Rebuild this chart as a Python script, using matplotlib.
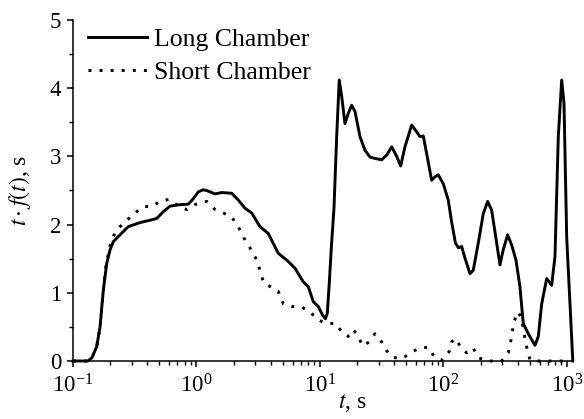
import matplotlib
matplotlib.use("Agg")
import matplotlib.pyplot as plt
from matplotlib.ticker import LogLocator, MultipleLocator, NullFormatter

plt.rcParams['font.family'] = ['Liberation Serif', 'DejaVu Serif']
plt.rcParams['mathtext.fontset'] = 'stix'

# Long chamber: time (s) and t*f(t) (s)
t_long = [0.100, 0.132, 0.1426, 0.1556, 0.1656, 0.1760, 0.1875, 0.1995, 0.2120, 0.2403,
          0.2805, 0.3490, 0.4339, 0.4762, 0.5388, 0.6100, 0.7123, 0.8590, 0.9420, 1.035,
          1.129, 1.210, 1.413, 1.600, 1.928, 2.180, 2.469, 2.799, 3.266, 3.811,
          4.592, 5.534, 6.274, 7.329, 8.041, 8.828, 9.690, 10.51, 11.08, 11.46,
          11.89, 12.39, 12.98, 13.65, 14.32, 14.99, 15.93, 16.94, 18.05, 19.20,
          21.08, 23.12, 25.40, 27.88, 31.61, 34.68, 38.08, 41.80, 45.01, 48.76,
          55.25, 60.64, 64.53, 68.62, 73.08, 80.17, 85.28, 90.69, 99.58, 109.3,
          116.1, 125.0, 132.2, 140.3, 149.2, 163.9, 174.2, 191.3, 210.0, 227.9,
          245.6, 269.6, 286.6, 304.6, 330.8, 356.6, 386.3, 416.1, 442.6, 485.9,
          550.9, 585.8, 624.4, 685.5, 751.7, 799.6, 850.6, 906.3, 946.1, 994.7,
          1057, 1115]
y_long = [0.00, 0.00, 0.05, 0.21, 0.50, 1.04, 1.43, 1.63, 1.75, 1.85,
          1.97, 2.03, 2.07, 2.09, 2.19, 2.27, 2.29, 2.30, 2.38, 2.48,
          2.51, 2.50, 2.45, 2.47, 2.46, 2.36, 2.24, 2.17, 1.97, 1.87,
          1.58, 1.46, 1.36, 1.16, 1.09, 0.87, 0.80, 0.67, 0.62, 0.70,
          1.14, 1.70, 2.24, 3.29, 4.12, 3.88, 3.48, 3.63, 3.75, 3.66,
          3.29, 3.09, 2.99, 2.97, 2.95, 3.02, 3.14, 3.00, 2.86, 3.14,
          3.46, 3.36, 3.29, 3.30, 3.04, 2.65, 2.70, 2.73, 2.60, 2.36,
          2.05, 1.73, 1.66, 1.68, 1.51, 1.28, 1.33, 1.73, 2.16, 2.34,
          2.21, 1.73, 1.41, 1.63, 1.85, 1.70, 1.48, 1.09, 0.55, 0.40,
          0.23, 0.36, 0.84, 1.21, 1.11, 1.53, 3.29, 4.12, 3.78, 1.82,
          0.85, 0.00]

# Short chamber
t_short = [0.100, 0.132, 0.1426, 0.1556, 0.1656, 0.1760, 0.1850, 0.2018, 0.2120, 0.2403,
           0.2754, 0.3177, 0.3667, 0.4415, 0.5128, 0.6100, 0.7123, 0.8337, 0.9908, 1.210,
           1.413, 1.648, 1.928, 2.180, 2.393, 2.626, 2.882, 3.163, 3.308, 3.521,
           4.064, 4.592, 5.049, 5.905, 7.112, 8.298, 9.690, 11.33, 13.40, 14.99,
           16.94, 18.60, 20.42, 22.17, 25.07, 27.88, 31.61, 34.68, 38.79, 46.77,
           54.26, 63.64, 75.33, 83.76, 96.68, 111.4, 116.5, 126.2, 137.8, 154.1,
           174.2, 191.3, 223.8, 295.8, 334.8, 350.1, 372.4, 403.6, 429.9, 457.1,
           477.5, 501.3, 530.4, 928.6]
y_short = [0.00, 0.00, 0.05, 0.21, 0.50, 1.04, 1.41, 1.73, 1.83, 1.97,
           2.07, 2.17, 2.26, 2.27, 2.35, 2.37, 2.27, 2.22, 2.30, 2.34,
           2.22, 2.17, 2.11, 1.97, 1.82, 1.70, 1.58, 1.43, 1.28, 1.14,
           1.08, 1.02, 0.84, 0.80, 0.79, 0.72, 0.60, 0.55, 0.55, 0.43,
           0.36, 0.46, 0.36, 0.22, 0.28, 0.40, 0.28, 0.15, 0.05, 0.04,
           0.12, 0.19, 0.20, 0.07, 0.01, 0.14, 0.28, 0.33, 0.20, 0.12,
           0.19, 0.05, 0.00, 0.00, 0.12, 0.28, 0.58, 0.72, 0.61, 0.33,
           0.16, 0.02, 0.00, 0.00]

labels = ['Long Chamber', 'Short Chamber']

fig = plt.figure(figsize=(5.84, 4.19), dpi=100)
ax = fig.add_axes([73/584, 1 - 361/419, 500/584, 341/419])

ax.plot(t_long, y_long, color='black', lw=2.1, solid_joinstyle='round', clip_on=False, label=labels[0])
ax.plot(t_short, y_short, color='black', lw=2.1, linestyle=(0, (1.0, 2.8)),
        dash_capstyle='butt', clip_on=False, label=labels[1])

ax.set_xscale('log')
ax.set_xlim(0.1, 1119)
ax.set_ylim(0, 5)
ax.xaxis.set_major_locator(LogLocator(base=10, numticks=10))
ax.xaxis.set_minor_locator(LogLocator(base=10, subs=range(2, 10), numticks=20))
ax.xaxis.set_minor_formatter(NullFormatter())
ax.yaxis.set_major_locator(MultipleLocator(1))
ax.yaxis.set_minor_locator(MultipleLocator(0.5))

for s in ['top', 'right']:
    ax.spines[s].set_visible(False)
for s in ['left', 'bottom']:
    ax.spines[s].set_linewidth(1.1)

ax.tick_params(which='major', direction='out', length=4.5, width=1.1, labelsize=16.5, pad=4)
ax.tick_params(which='minor', direction='out', length=2.8, width=1.0)
ax.tick_params(axis='x', which='major', pad=5)

ax.set_xlabel(r'$t$, s', fontsize=17)
ax.xaxis.set_label_coords(0.558, -0.09)
ax.set_ylabel(r'$t\cdot f(t)$, s', fontsize=17)
ax.yaxis.set_label_coords(-0.08, 0.5)

leg = ax.legend(loc='upper left', bbox_to_anchor=(0.03, 0.977), frameon=False,
                fontsize=18.5, handlelength=2.3, handletextpad=0.25,
                borderaxespad=0, borderpad=0, labelspacing=0.4)

fig.savefig('out.png', dpi=100)
